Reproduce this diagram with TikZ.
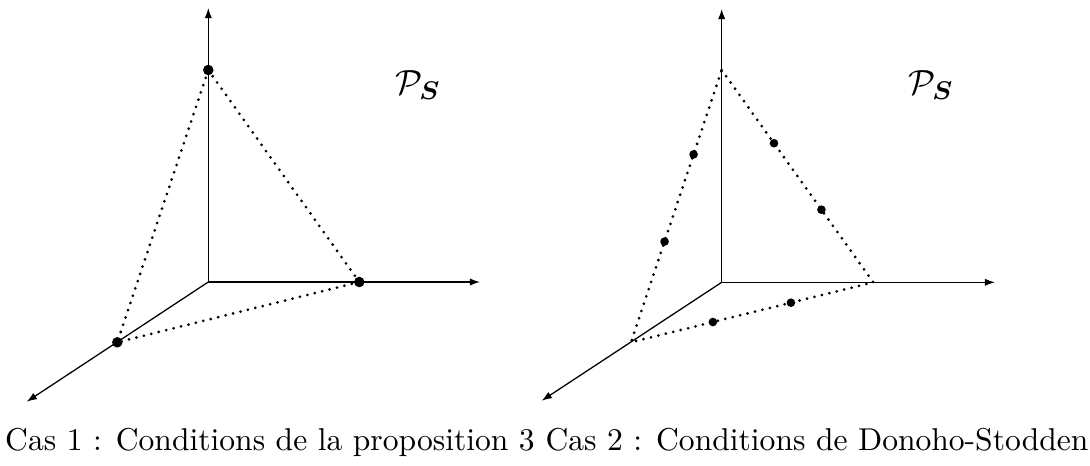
\documentclass[tikz,border=0pt]{standalone}
\usepackage{amsmath,amssymb,bm}
\usetikzlibrary{arrows.meta}
\begin{document}
\begin{tikzpicture}[x=0.3135pt,y=-0.3135pt,
  axis/.style={line width=0.4pt,-{Latex[length=3.2pt,width=2.3pt]}},
  edge/.style={line width=0.95pt,line cap=round,dash pattern=on 0pt off 2.4pt},
  bigdot/.style={circle,fill,inner sep=0pt,minimum size=3.3pt},
  smalldot/.style={circle,fill,inner sep=0pt,minimum size=2.7pt},
  caption/.style={anchor=base,font=\fontsize{9.9}{12}\selectfont},
  setlabel/.style={font=\fontsize{11.2}{13}\selectfont}]
\useasboundingbox (0,0) rectangle (1090,466);
% ---------- left diagram ----------
\coordinate (O1) at (208.3,282);
\coordinate (X1) at (480,282);
\coordinate (Y1) at (208.3,8);
\coordinate (Z1) at (26.7,401.7);
\draw[axis] (O1) -- (X1);
\draw[axis] (O1) -- (Y1);
\draw[axis] (O1) -- (Z1);
\coordinate (A1) at (208.3,70);
\coordinate (B1) at (359.3,282);
\coordinate (C1) at (117.3,342.3);
\draw[edge] (A1) -- (B1) -- (C1) -- cycle;
\node[bigdot] (dA1) at (A1) {};
\node[bigdot] (dB1) at (B1) {};
\node[bigdot] (dC1) at (C1) {};
\node[setlabel] (L1) at (418,85) {$\mathcal{P}_{\boldsymbol{S}}$};
\node[caption] (cap1) at (270,450.7) {Cas 1 : Conditions de la proposition 3};
% ---------- right diagram ----------
\coordinate (O2) at (721.7,282.3);
\coordinate (X2) at (995,282.3);
\coordinate (Y2) at (721.7,9);
\coordinate (Z2) at (541.7,400.7);
\draw[axis] (O2) -- (X2);
\draw[axis] (O2) -- (Y2);
\draw[axis] (O2) -- (Z2);
\coordinate (A2) at (721.7,70);
\coordinate (B2) at (873.3,282.3);
\coordinate (C2) at (631,342.3);
\draw[edge] (A2) -- (B2) -- (C2) -- cycle;
\path (A2) -- (C2) node[smalldot,pos=0.31] (e1) {} node[smalldot,pos=0.63] (e2) {};
\path (A2) -- (B2) node[smalldot,pos=0.345] (e3) {} node[smalldot,pos=0.658] (e4) {};
\path (C2) -- (B2) node[smalldot,pos=0.338] (e5) {} node[smalldot,pos=0.66] (e6) {};
\node[setlabel] (L2) at (931,85) {$\mathcal{P}_{\boldsymbol{S}}$};
\node[caption] (cap2) at (817,450.7) {Cas 2 : Conditions de Donoho-Stodden};
\end{tikzpicture}
\end{document}
